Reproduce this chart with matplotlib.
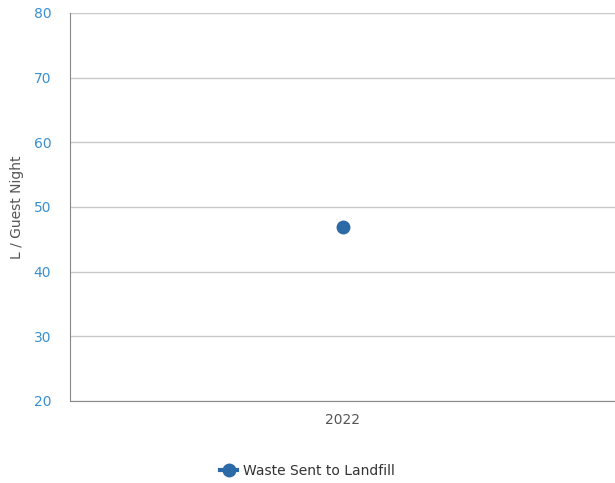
import matplotlib
matplotlib.use("Agg")
import matplotlib.pyplot as plt
from matplotlib.lines import Line2D

years = ["2022"]
landfill = [46.9]
series_name = "Waste Sent to Landfill"

fig = plt.figure(figsize=(6.15, 4.83), dpi=100)
ax = fig.add_axes([70 / 615, 82 / 483, 545 / 615, 388 / 483])

ax.plot(range(len(years)), landfill, marker="o", markersize=9, color="#2c69a7",
        linestyle="-", linewidth=2, zorder=3)

ax.set_xlim(-0.5, len(years) - 0.5)
ax.set_ylim(20, 80)
ax.set_yticks(range(20, 81, 10))
ax.set_xticks(range(len(years)))
ax.set_xticklabels(years)

ax.grid(axis="y", color="#c8c8c8", linewidth=1)
ax.set_axisbelow(True)
for side in ["top", "right"]:
    ax.spines[side].set_visible(False)
ax.spines["left"].set_color("#888888")
ax.spines["bottom"].set_color("#888888")

ax.tick_params(axis="y", length=0, labelcolor="#3a8fd0", labelsize=10, pad=13.5)
ax.tick_params(axis="x", length=0, labelcolor="#555555", labelsize=10, pad=9)

ax.set_ylabel("L / Guest Night", color="#555555", fontsize=10)
ax.yaxis.set_label_coords(-0.085, 0.5)

handle = Line2D([], [], color="#2c69a7", marker="o", markersize=9, linewidth=3)
fig.legend([handle], [series_name], loc="center", bbox_to_anchor=(0.5, 12 / 483),
           frameon=False, fontsize=10, handlelength=1.2, handletextpad=0.4,
           labelcolor="#333333")

fig.savefig("out.png", dpi=100)
